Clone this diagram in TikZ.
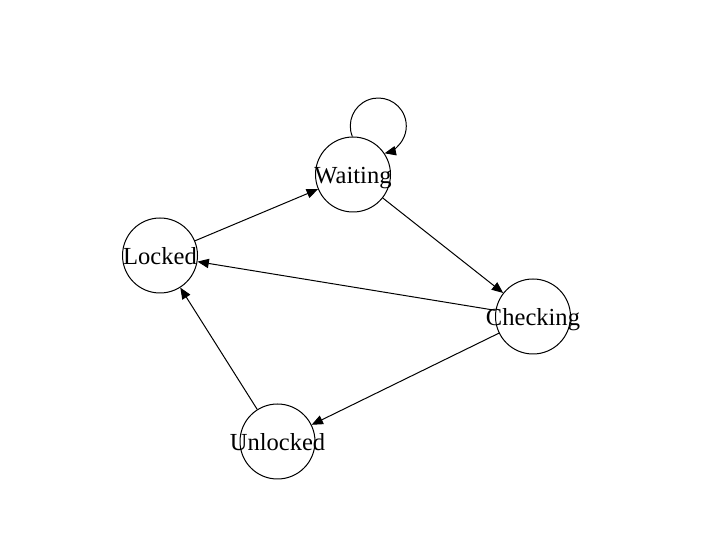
\documentclass[tikz,border=0pt]{standalone}
\usepackage{fontspec}
\setmainfont{Liberation Serif}
\usetikzlibrary{arrows.meta}

\tikzset{
    state/.style={circle, draw, line width=0.75pt, minimum size=56.25pt, inner sep=0pt,
        font=\fontsize{18.4}{20}\selectfont},
    trans/.style={line width=0.75pt, -{Triangle[length=8.5pt,width=7pt]}}
}
\newcommand{\statename}[1]{\makebox[0pt]{\raisebox{-6.5pt}[0pt][0pt]{#1}}}

\begin{document}
\begin{tikzpicture}[x=0.75pt, y=-0.75pt]
            \useasboundingbox (0,0) rectangle (711,559);

            \node[state] (waiting) at (353,174.5) {\statename{Waiting}};
            \node[state] (locked) at (160,255.5) {\statename{Locked}};
            \node[state] (checking) at (533,316.5) {\statename{Checking}};
            \node[state] (unlocked) at (277.5,441.5) {\statename{Unlocked}};

            \draw[trans] (locked) -- (waiting);
            \draw[trans] (waiting) -- (checking);
            \draw[trans] (checking) -- (locked);
            \draw[trans] (checking) -- (unlocked);
            \draw[trans] (unlocked) -- (locked);

            % self loop on waiting
            \draw[trans] (waiting.91) arc[start angle=202, end angle=-77, radius=21pt];
            \end{tikzpicture}
\end{document}
